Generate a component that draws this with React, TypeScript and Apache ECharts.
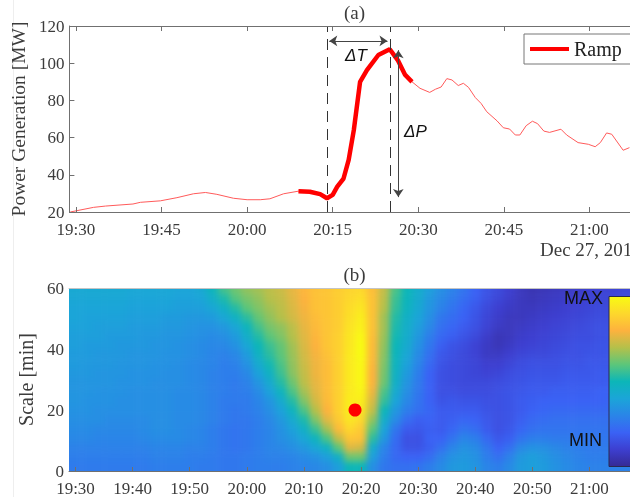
import React, { useEffect, useRef } from "react";
import * as echarts from "echarts";

const serif = "'Liberation Serif', serif";
const sans = "'Liberation Sans', sans-serif";
const txt = "#3c3c3c";

// Panel (a): minutes after 19:30, MW
const powerMinutes = [-1, 3.1, 5.2, 10, 11.3, 14.8, 17.7, 20.6, 22.7, 24.7, 27.6, 30, 32.3, 34, 36.4, 39, 41, 42.8, 44, 45, 45.8, 46.9, 47.8, 48.7, 49.8, 51, 53, 55, 56.4, 57.7, 58.9, 60.3, 62, 63, 64, 65, 65.9, 67, 67.9, 68.8, 70, 71, 72, 73.8, 74.9, 76, 77, 77.8, 78.9, 80, 80.9, 82, 83, 85, 86, 88, 89.8, 91, 91.9, 93, 93.9, 95.9, 97];
const powerValues = [20, 22.5, 23.2, 24.3, 25.2, 26, 27.7, 29.8, 30.5, 29.5, 27.4, 26.6, 26.6, 27.1, 29.8, 31.2, 30.9, 29.6, 27.4, 29.2, 33.6, 38, 48, 64, 90, 96.3, 104.4, 107.5, 101.7, 93.7, 90, 86.5, 84.3, 86, 87.2, 91.7, 91, 88, 89.2, 87, 81.5, 78.4, 73.9, 69, 65.3, 64.6, 61.4, 61.4, 66.4, 68.8, 67.5, 63.5, 62.8, 64.5, 61.4, 57.3, 56.4, 55.1, 57.3, 62.5, 61.8, 53.2, 54.6];
const rampMinutes = [39, 41, 42.8, 44, 45, 45.8, 46.9, 47.8, 48.7, 49.8, 51, 53, 55, 56.4, 57.7, 58.9];
const rampValues = [31.2, 30.9, 29.6, 27.4, 29.2, 33.6, 38, 48, 64, 90, 96.3, 104.4, 107.5, 101.7, 93.7, 90];

const ticksA = [0, 15, 30, 45, 60, 75, 90];
const ticksB = [0, 10, 20, 30, 40, 50, 60, 70, 80, 90];
const xMin = -1.14;
const xMax = 97.1;

const startMinute = [44];
const endMinute = [55];

// Panel (b): relative energy (0..100); columns every 2 min from 19:30
const columnMinutes = [0, 2, 4, 6, 8, 10, 12, 14, 16, 18, 20, 22, 24, 26, 28, 30, 32, 34, 36, 38, 40, 42, 44, 46, 48, 50, 52, 54, 56, 58, 60, 62, 64, 66, 68, 70, 72, 74, 76, 78, 80, 82, 84, 86, 88, 90, 92, 94, 96];
const rowScales = [59.5, 56.5, 53.5, 50.5, 47.5, 44.5, 41.5, 38.5, 35.5, 32.5, 29.5, 26.5, 23.5, 20.5, 17.5, 14.5, 11.5, 8.5, 5.5, 2.5];
const row01 = [42, 42, 42, 42, 42, 41, 41, 41, 41, 40, 40, 42, 49, 57, 62, 66, 68, 71, 73, 77, 81, 84, 85, 87, 89, 90, 83, 72, 58, 50, 44, 38, 33, 29, 25, 20, 16, 13, 10, 7, 5, 6, 7, 8, 9, 10, 11, 11, 12];
const row02 = [41, 41, 41, 41, 41, 40, 40, 40, 40, 39, 39, 40, 45, 52, 59, 63, 66, 70, 72, 76, 80, 84, 85, 87, 90, 92, 84, 71, 56, 49, 43, 36, 31, 27, 23, 19, 15, 12, 9, 7, 6, 7, 8, 9, 10, 11, 12, 12, 13];
const row03 = [40, 40, 40, 40, 40, 39, 39, 39, 39, 38, 38, 38, 41, 46, 53, 60, 64, 68, 71, 75, 79, 84, 85, 87, 91, 94, 84, 70, 55, 48, 42, 35, 29, 25, 21, 17, 13, 10, 8, 7, 7, 8, 9, 10, 11, 12, 13, 13, 14];
const row04 = [40, 39, 39, 39, 39, 38, 38, 38, 37, 37, 36, 36, 37, 41, 47, 54, 61, 66, 70, 74, 78, 83, 85, 87, 92, 96, 84, 68, 53, 46, 40, 33, 26, 23, 20, 16, 12, 9, 7, 7, 8, 9, 10, 11, 12, 13, 14, 14, 15];
const row05 = [39, 39, 38, 38, 38, 37, 37, 37, 36, 36, 35, 34, 34, 36, 41, 49, 57, 63, 66, 71, 77, 82, 85, 87, 93, 97, 84, 68, 52, 45, 38, 31, 24, 21, 18, 15, 11, 8, 7, 8, 9, 10, 11, 12, 13, 14, 15, 15, 16];
const row06 = [38, 38, 38, 37, 37, 37, 36, 36, 35, 35, 34, 33, 32, 33, 37, 45, 53, 60, 64, 70, 76, 81, 85, 88, 94, 99, 83, 67, 51, 44, 36, 28, 22, 19, 16, 13, 9, 6, 7, 9, 10, 11, 12, 13, 14, 14, 15, 16, 16];
const row07 = [38, 37, 37, 37, 36, 36, 36, 35, 35, 34, 33, 32, 31, 31, 34, 41, 50, 56, 61, 68, 75, 80, 85, 88, 94, 100, 82, 66, 50, 43, 34, 26, 19, 16, 14, 11, 8, 6, 8, 10, 11, 12, 13, 14, 15, 15, 16, 16, 17];
const row08 = [37, 37, 36, 36, 36, 35, 35, 35, 34, 34, 33, 32, 30, 29, 31, 37, 47, 54, 60, 67, 74, 79, 84, 88, 95, 100, 82, 65, 49, 41, 32, 24, 17, 15, 13, 11, 8, 8, 10, 12, 13, 13, 14, 15, 15, 16, 16, 17, 17];
const row09 = [37, 36, 36, 36, 35, 35, 35, 34, 34, 33, 32, 31, 30, 28, 29, 34, 43, 51, 58, 66, 73, 78, 83, 88, 95, 99, 81, 64, 48, 39, 30, 22, 16, 14, 13, 12, 10, 10, 12, 14, 15, 15, 15, 16, 16, 17, 17, 17, 18];
const row10 = [36, 36, 35, 35, 35, 34, 34, 34, 33, 33, 32, 31, 29, 28, 28, 31, 39, 47, 56, 65, 72, 78, 83, 88, 95, 99, 80, 63, 47, 37, 28, 20, 15, 14, 13, 12, 11, 12, 14, 15, 16, 16, 16, 17, 17, 17, 18, 18, 18];
const row11 = [35, 35, 35, 35, 34, 34, 34, 33, 33, 33, 32, 31, 29, 28, 27, 29, 35, 43, 53, 62, 71, 77, 83, 88, 95, 99, 80, 62, 46, 35, 27, 20, 15, 14, 13, 13, 13, 14, 15, 16, 17, 17, 17, 18, 18, 18, 18, 19, 19];
const row12 = [35, 35, 34, 34, 34, 33, 33, 33, 33, 32, 32, 31, 29, 28, 27, 28, 32, 39, 48, 58, 68, 76, 83, 88, 95, 98, 78, 58, 43, 33, 26, 20, 15, 15, 14, 14, 14, 15, 16, 17, 18, 18, 19, 19, 19, 19, 20, 20, 20];
const row13 = [35, 34, 34, 34, 33, 33, 33, 33, 33, 32, 32, 31, 29, 27, 27, 27, 30, 35, 43, 53, 64, 74, 82, 88, 96, 96, 75, 55, 40, 31, 25, 20, 16, 17, 16, 16, 15, 15, 16, 18, 19, 20, 20, 20, 20, 20, 20, 21, 21];
const row14 = [34, 34, 33, 33, 33, 33, 33, 33, 33, 32, 32, 31, 29, 27, 26, 27, 29, 33, 39, 48, 58, 70, 80, 88, 96, 93, 72, 50, 36, 28, 24, 21, 18, 18, 18, 18, 16, 15, 16, 18, 20, 21, 22, 22, 22, 22, 22, 22, 22];
const row15 = [33, 33, 33, 32, 32, 32, 32, 33, 33, 32, 32, 31, 29, 27, 26, 26, 28, 31, 36, 43, 52, 64, 76, 86, 94, 90, 66, 45, 32, 23, 19, 20, 18, 19, 21, 20, 17, 15, 16, 19, 22, 23, 24, 24, 24, 24, 24, 24, 24];
const row16 = [32, 32, 31, 31, 31, 31, 32, 33, 33, 32, 31, 30, 28, 26, 25, 26, 28, 30, 34, 39, 46, 56, 68, 82, 90, 86, 60, 40, 26, 18, 17, 19, 18, 21, 25, 23, 18, 15, 17, 21, 24, 25, 25, 25, 25, 25, 25, 25, 25];
const row17 = [31, 31, 30, 30, 30, 30, 31, 32, 32, 32, 31, 30, 28, 26, 25, 26, 28, 30, 33, 36, 41, 48, 58, 72, 85, 84, 54, 36, 23, 15, 15, 20, 20, 25, 30, 28, 22, 17, 19, 25, 28, 28, 27, 27, 26, 26, 26, 26, 26];
const row18 = [29, 29, 29, 29, 29, 29, 29, 30, 30, 30, 29, 29, 28, 26, 25, 26, 28, 30, 31, 33, 36, 41, 47, 60, 76, 74, 44, 30, 22, 16, 16, 19, 24, 30, 34, 32, 26, 20, 24, 31, 34, 33, 31, 29, 28, 27, 27, 27, 27];
const row19 = [28, 28, 28, 28, 28, 28, 28, 29, 29, 29, 28, 28, 27, 26, 26, 27, 28, 29, 29, 30, 32, 34, 38, 46, 62, 62, 38, 28, 22, 20, 20, 23, 29, 34, 36, 34, 28, 24, 29, 36, 38, 36, 33, 31, 29, 28, 28, 28, 28];
const row20 = [27, 27, 27, 27, 27, 27, 27, 28, 28, 28, 28, 27, 27, 26, 26, 27, 28, 28, 28, 29, 30, 31, 33, 38, 50, 50, 33, 26, 24, 24, 25, 28, 32, 36, 37, 35, 30, 28, 32, 37, 38, 37, 34, 32, 30, 29, 29, 29, 29];
const heatRows = [row01, row02, row03, row04, row05, row06, row07, row08, row09, row10, row11, row12, row13, row14, row15, row16, row17, row18, row19, row20];

const peakMinute = [48.95];
const peakScale = [20];

const parula = ["#352a95", "#3d3fd0", "#3a62f5", "#2a85e8", "#1ba5d8", "#0cb6b8", "#5cc67a", "#b5c04a", "#fdb23e", "#fdd82c", "#f8fb12"];

const clock = (m: number) => {
  const t = 19 * 60 + 30 + m;
  return `${Math.floor(t / 60)}:${String(t % 60).padStart(2, "0")}`;
};

const heatData: number[][] = [];
heatRows.forEach((row, r) => row.forEach((v, c) => heatData.push([columnMinutes[c], rowScales[r], v, r, c])));

const xBottom = (gridIndex: number, ticks: number[]) => ({
  type: "value", gridIndex, min: xMin, max: xMax, position: "bottom", z: 5,
  axisLine: { show: true, onZero: false, lineStyle: { color: "#707070", width: 1 } },
  axisTick: { show: true, inside: true, length: gridIndex === 0 ? 5 : 4, customValues: ticks, lineStyle: { color: "#707070" } },
  axisLabel: { show: true, customValues: ticks, formatter: (v: number) => clock(v), margin: 9, color: txt, fontFamily: serif, fontSize: 17 },
  splitLine: { show: false },
});
const xTop = (gridIndex: number, ticks: number[], color: string) => ({
  type: "value", gridIndex, min: xMin, max: xMax, position: "top", z: 5,
  axisLine: { show: true, onZero: false, lineStyle: { color, width: 1 } },
  axisTick: { show: ticks.length > 0, inside: true, length: 5, customValues: ticks, lineStyle: { color: "#707070" } },
  axisLabel: { show: false },
  splitLine: { show: false },
});
const yLeft = (gridIndex: number, min: number, max: number, name: string, nameGap: number, nameSize: number) => ({
  type: "value", gridIndex, min, max, interval: 20, z: 5,
  name, nameLocation: "middle", nameGap, nameRotate: 90,
  nameTextStyle: { color: txt, fontFamily: serif, fontSize: nameSize },
  axisLine: { show: gridIndex === 0, onZero: false, lineStyle: { color: "#707070", width: 1 } },
  axisTick: { show: gridIndex === 0, inside: true, length: 5, lineStyle: { color: "#707070" } },
  axisLabel: { margin: 5, color: txt, fontFamily: serif, fontSize: 17 },
  splitLine: { show: false },
});

export default function App() {
  const heatRef = useRef<HTMLDivElement>(null);
  const ref = useRef<HTMLDivElement>(null);
  useEffect(() => {
    // Heat layer: same scales as panel (b), softened by the blur on its element
    const heat = echarts.init(heatRef.current!, undefined, { renderer: "svg" });
    heat.setOption({
      animation: false,
      grid: { left: 24, top: 24, width: 561, height: 186 },
      xAxis: { type: "value", min: xMin, max: xMax, show: false },
      yAxis: { type: "value", min: 0, max: 60, interval: 20, show: false },
      visualMap: { type: "continuous", show: false, dimension: 2, min: 0, max: 100, inRange: { color: parula } },
      series: [{
        type: "custom", silent: true, clip: false, encode: { x: 0, y: 1 }, data: heatData,
        renderItem: (params: any, api: any) => {
          const c = api.coord([api.value(0), api.value(1)]);
          const s = api.size([2, 3]);
          const r = api.value(3), k = api.value(4);
          const pad = 24;
          const left = c[0] - s[0] / 2 - (k === 0 ? pad : 0);
          const right = c[0] + s[0] / 2 + (k === columnMinutes.length - 1 ? pad : 0.5);
          const top = c[1] - s[1] / 2 - (r === 0 ? pad : 0);
          const bottom = c[1] + s[1] / 2 + (r === rowScales.length - 1 ? pad : 0.5);
          return { type: "rect", shape: { x: left, y: top, width: right - left, height: bottom - top }, style: { fill: api.visual("color") } };
        },
      }],
    });

    const chart = echarts.init(ref.current!, undefined, { renderer: "svg" });
    chart.setOption({
      animation: false,
      grid: [
        { left: 69, top: 26, width: 561, height: 186 },
        { left: 69, top: 288, width: 561, height: 186 },
      ],
      xAxis: [xBottom(0, ticksA), xTop(0, ticksA, "#707070"), xBottom(1, ticksB), xTop(1, [], "#c4c4c4")],
      yAxis: [yLeft(0, 20, 120, "Power Generation [MW]", 39, 19.5), yLeft(1, 0, 60, "Scale [min]", 24, 20)],
      legend: {
        data: ["Ramp"], left: 524, top: 34, padding: [5, 12, 5, 6], icon: "rect", itemWidth: 39, itemHeight: 4,
        backgroundColor: "#fff", borderColor: "#777", borderWidth: 1, z: 10,
        textStyle: { color: "#222", fontFamily: serif, fontSize: 20 },
      },
      series: [
        {
          type: "line", name: "Power", xAxisIndex: 0, yAxisIndex: 0, showSymbol: false, z: 2,
          lineStyle: { color: "#ff5a5a", width: 1 }, itemStyle: { color: "#ff5a5a" },
          data: powerMinutes.map((m, i) => [m, powerValues[i]]),
          markLine: {
            silent: true, animation: false, label: { show: false }, symbol: "none",
            lineStyle: { color: "#333", type: [11, 7], width: 1 },
            data: [{ xAxis: startMinute[0] }, { xAxis: endMinute[0] }],
          },
        },
        {
          type: "line", name: "Ramp", xAxisIndex: 0, yAxisIndex: 0, showSymbol: false, z: 3,
          lineStyle: { color: "#ff0000", width: 4.5 }, itemStyle: { color: "#ff0000" },
          data: rampMinutes.map((m, i) => [m, rampValues[i]]),
          markLine: {
            silent: true, animation: false, label: { show: false }, symbol: ["arrow", "arrow"], symbolSize: 8,
            lineStyle: { color: "#444", type: "solid", width: 1 },
            data: [
              [{ coord: [startMinute[0] + 0.4, 112] }, { coord: [endMinute[0] - 0.4, 112] }],
              [{ coord: [56.5, 107] }, { coord: [56.5, 28] }],
            ],
          },
        },
        {
          type: "scatter", name: "Peak", xAxisIndex: 2, yAxisIndex: 1, symbolSize: 13, z: 4, silent: true,
          itemStyle: { color: "#ff0000", opacity: 1 },
          data: peakMinute.map((m, i) => [m, peakScale[i]]),
        },
      ],
      graphic: [
        { type: "line", shape: { x1: 13.5, y1: 0, x2: 13.5, y2: 497 }, style: { stroke: "#eeeeee", lineWidth: 1 }, silent: true },
        { type: "text", x: 354.5, y: 12.5, style: { text: "(a)", font: `19px ${serif}`, fill: txt, textAlign: "center", textVerticalAlign: "middle" } },
        { type: "text", x: 354.5, y: 274, style: { text: "(b)", font: `19px ${serif}`, fill: txt, textAlign: "center", textVerticalAlign: "middle" } },
        { type: "text", x: 540, y: 249, style: { text: "Dec 27, 2017", font: `19px ${serif}`, fill: txt, textAlign: "left", textVerticalAlign: "middle" } },
        { type: "text", x: 345, y: 55, z: 10, style: { text: "ΔT", font: `italic 17px ${sans}`, fill: "#111", textAlign: "left", textVerticalAlign: "middle" } },
        { type: "text", x: 404, y: 131, z: 10, style: { text: "ΔP", font: `italic 17px ${sans}`, fill: "#111", textAlign: "left", textVerticalAlign: "middle" } },
        { type: "text", x: 603, y: 298, z: 10, style: { text: "MAX", font: `18px ${sans}`, fill: "#111", textAlign: "right", textVerticalAlign: "middle" } },
        { type: "text", x: 602, y: 440, z: 10, style: { text: "MIN", font: `18px ${sans}`, fill: "#111", textAlign: "right", textVerticalAlign: "middle" } },
        {
          type: "rect", z: 10, shape: { x: 609, y: 296.5, width: 30, height: 170 },
          style: {
            stroke: "#2a2a50", lineWidth: 1,
            fill: new echarts.graphic.LinearGradient(0, 1, 0, 0, parula.map((color, i) => ({ offset: i / (parula.length - 1), color }))),
          },
          silent: true,
        },
      ],
    });
    return () => { chart.dispose(); heat.dispose(); };
  }, []);
  return (
    <>
      <div style={{ position: "fixed", left: 69, top: 288, width: 561, height: 182.7, overflow: "hidden" }}>
        <div ref={heatRef} style={{ position: "absolute", left: -24, top: -24, width: 609, height: 240, filter: "blur(3px)" }} />
      </div>
      <div ref={ref} style={{ position: "fixed", left: 0, top: 0, width: 630, height: 497 }} />
    </>
  );
}
